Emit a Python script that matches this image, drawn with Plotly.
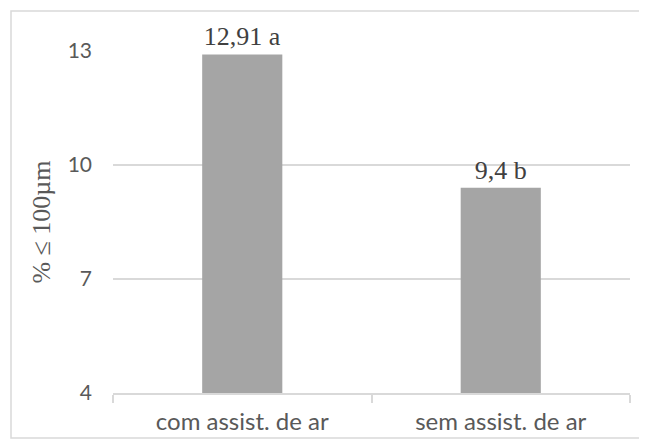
import plotly.graph_objects as go

categories = ["com assist. de ar", "sem assist. de ar"]
values = [12.91, 9.4]
labels = ["12,91 a", "9,4 b"]
y_ticks = [4, 7, 10, 13]

# the page body has an 8px default margin; compensate so the figure lands at the reference position
OFF = 8
W, H = 647 - OFF, 439 - OFF
L, R, T, B = 113 - OFF, 17, 51 - OFF, 46
pw, ph = W - L - R, H - T - B

def px(x):
    return (x - OFF - L) / pw

def py(y):
    return (H - B - (y - OFF)) / ph

fig = go.Figure(go.Bar(
    x=categories, y=values, text=labels, textposition="outside",
    cliponaxis=False,
    marker=dict(color="#a5a5a5", line=dict(width=0)),
    textfont=dict(family="Liberation Serif", size=26, color="#404040"),
    width=0.31,
))

fig.update_layout(
    width=W, height=H,
    margin=dict(l=L, r=R, t=T, b=B, autoexpand=False),
    plot_bgcolor="white", paper_bgcolor="white",
    showlegend=False,
    yaxis=dict(
        range=[4, 13], tickvals=y_ticks, ticktext=[str(v) for v in y_ticks],
        showgrid=True, gridcolor="#d9d9d9", gridwidth=1.5,
        zeroline=False, showline=False, ticks="",
        tickfont=dict(family="Lato", size=21, color="#595959"),
        ticklabelstandoff=20, automargin=False,
        title=dict(text="% ≤ 100µm", standoff=9,
                   font=dict(family="Liberation Serif", size=26, color="#595959")),
    ),
    xaxis=dict(
        showline=True, linecolor="#d9d9d9", linewidth=1.5,
        ticks="outside", tickson="boundaries", ticklen=8,
        tickcolor="#d9d9d9", tickwidth=1.5,
        tickfont=dict(family="Lato", size=24, color="#595959"),
        ticklabelstandoff=6, automargin=False,
    ),
    shapes=[dict(type="rect", xref="paper", yref="paper",
                 x0=px(11), x1=px(660), y0=py(438), y1=py(11),
                 line=dict(color="#d9d9d9", width=1.5), layer="below")],
)

fig.write_html("out.html")
